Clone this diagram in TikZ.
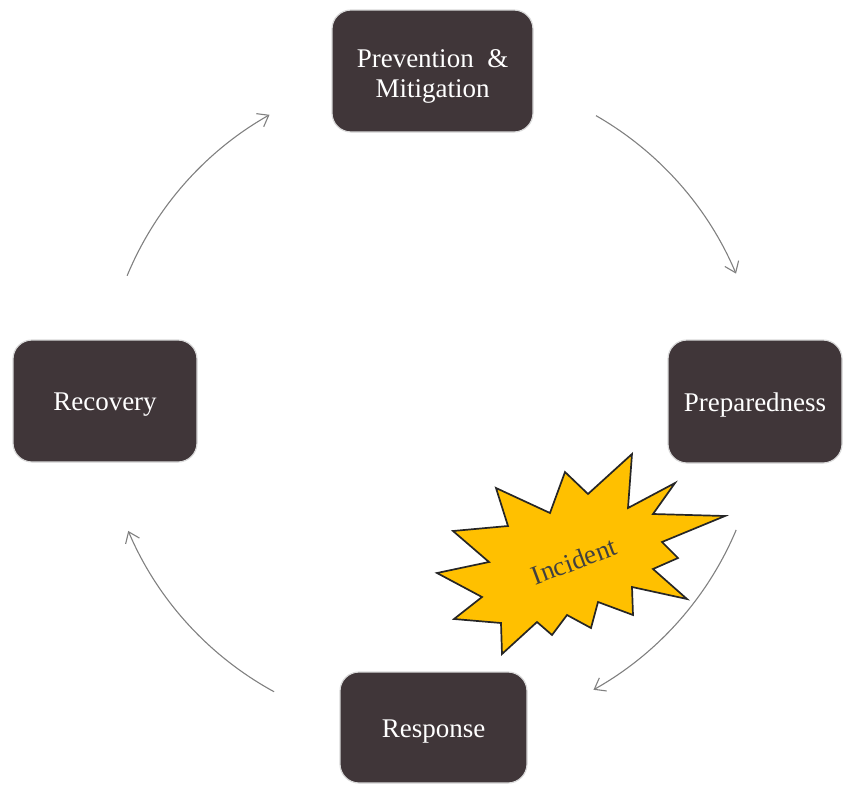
\documentclass[tikz,border=0pt]{standalone}
\usepackage{fontspec}
\setmainfont{Liberation Serif}
\usetikzlibrary{arrows.meta}
\definecolor{boxfill}{HTML}{403639}
\definecolor{boxedge}{HTML}{D9D9D9}
\definecolor{burstfill}{HTML}{FFC000}
\definecolor{burstedge}{HTML}{262626}
\definecolor{arcgray}{HTML}{808080}
\definecolor{inctext}{HTML}{404040}
\newcommand{\lowerby}[2]{\raisebox{-#1}[\height][\depth]{#2}}
\tikzset{
  phase/.style={draw=boxedge, line width=1.2pt, fill=boxfill, rounded corners=19pt,
    inner sep=0pt, align=center, text=white,
    font=\fontsize{27}{30}\selectfont},
  cyc/.style={draw=arcgray, line width=1.1pt,
    -{Straight Barb[length=10pt,width=15pt,line width=1.1pt]}},
  burst/.style={fill=burstfill, draw=burstedge, line width=1.7pt, line join=miter},
}
\begin{document}
\begin{tikzpicture}[x=1pt,y=1pt]
\useasboundingbox (0,0) rectangle (847,-785);

\node[phase, minimum width=201pt, minimum height=122pt] (prev) at (432.5,-71)
  {\lowerby{5pt}{\parbox{190pt}{\centering Prevention~~\&\\Mitigation}}};
\node[phase, minimum width=174pt, minimum height=123pt] (prep) at (755,-401.5) {\lowerby{3.5pt}{Preparedness}};
\node[phase, minimum width=184pt, minimum height=122pt] (reco) at (105,-401) {\lowerby{3.5pt}{Recovery}};
\node[phase, minimum width=187pt, minimum height=111pt] (resp) at (433.5,-727.5) {\lowerby{4.5pt}{Response}};

\coordinate (ctr) at (432,-402);
\draw[cyc] ([shift={(60.2:330)}]ctr) arc[start angle=60.2, end angle=22.9, radius=330];
\draw[cyc] ([shift={(-22.8:330)}]ctr) arc[start angle=-22.8, end angle=-60.7, radius=330];
\draw[cyc] ([shift={(-118.6:330)}]ctr) arc[start angle=-118.6, end angle=-157, radius=330];
\draw[cyc] ([shift={(157.5:330)}]ctr) arc[start angle=157.5, end angle=119.5, radius=330];

\draw[burst] (496,-488) -- (550,-513) -- (565,-472) -- (588,-494) -- (632,-454)
  -- (628,-508) -- (675,-483) -- (653,-514) -- (725,-516) -- (662,-542)
  -- (678,-558) -- (653,-569) -- (687,-599) -- (632,-587) -- (633,-615)
  -- (598,-602) -- (591,-628) -- (567,-615) -- (552,-635) -- (537,-622)
  -- (502,-654) -- (501,-623) -- (454,-619) -- (482,-597) -- (437,-573)
  -- (489,-562) -- (453,-531) -- (508,-526) -- cycle;
\node[text=inctext, rotate=20.5, font=\fontsize{27}{30}\selectfont, inner sep=0pt] (inc) at (574,-561) {Incident};
\end{tikzpicture}
\end{document}
